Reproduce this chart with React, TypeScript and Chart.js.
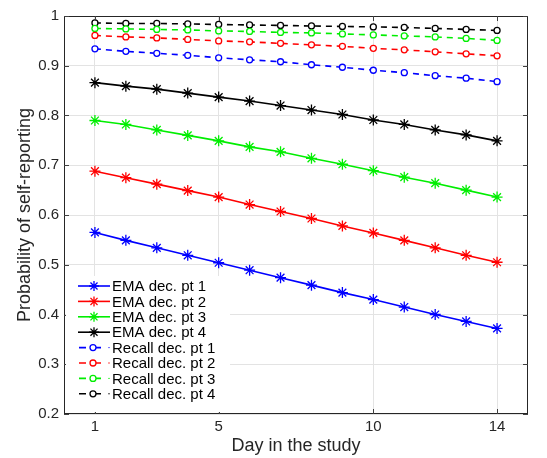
import React, { useEffect, useRef } from "react";
import { Chart, registerables } from "chart.js";

Chart.register(...registerables);

const days = [1, 2, 3, 4, 5, 6, 7, 8, 9, 10, 11, 12, 13, 14];
const xTicks = [1, 5, 10, 14];
const yTicks = [0.2, 0.3, 0.4, 0.5, 0.6, 0.7, 0.8, 0.9, 1];

const emaPt1 = [0.565, 0.549, 0.534, 0.519, 0.504, 0.489, 0.474, 0.459, 0.444, 0.43, 0.415, 0.4, 0.386, 0.372];
const emaPt2 = [0.688, 0.675, 0.662, 0.649, 0.636, 0.621, 0.607, 0.593, 0.578, 0.564, 0.549, 0.534, 0.519, 0.505];
const emaPt3 = [0.79, 0.782, 0.771, 0.76, 0.749, 0.737, 0.727, 0.714, 0.702, 0.689, 0.676, 0.664, 0.65, 0.636];
const emaPt4 = [0.866, 0.859, 0.853, 0.845, 0.837, 0.829, 0.82, 0.811, 0.802, 0.791, 0.782, 0.771, 0.761, 0.749];
const recallPt1 = [0.934, 0.929, 0.925, 0.921, 0.916, 0.912, 0.908, 0.902, 0.897, 0.891, 0.886, 0.88, 0.875, 0.868];
const recallPt2 = [0.961, 0.958, 0.956, 0.953, 0.95, 0.948, 0.945, 0.942, 0.939, 0.935, 0.932, 0.928, 0.924, 0.92];
const recallPt3 = [0.975, 0.974, 0.973, 0.972, 0.97, 0.969, 0.967, 0.966, 0.964, 0.962, 0.96, 0.958, 0.955, 0.951];
const recallPt4 = [0.986, 0.985, 0.985, 0.984, 0.983, 0.982, 0.981, 0.98, 0.979, 0.978, 0.977, 0.975, 0.973, 0.971];

const labels = [
  "EMA dec. pt 1",
  "EMA dec. pt 2",
  "EMA dec. pt 3",
  "EMA dec. pt 4",
  "Recall dec. pt 1",
  "Recall dec. pt 2",
  "Recall dec. pt 3",
  "Recall dec. pt 4",
];
const colors = ["#0000ff", "#ff0000", "#00ee00", "#000000"];
const FONT = "'Liberation Sans', Arial, Helvetica, sans-serif";

function toPts(vals: number[]) {
  return vals.map((v, i) => ({ x: days[i], y: v }));
}

const legendPlugin = {
  id: "customLegend",
  afterDraw(chart: any) {
    const ctx = chart.ctx;
    const area = chart.chartArea;
    const xs = chart.scales.x;
    const ys = chart.scales.y;
    ctx.save();
    // frame
    ctx.strokeStyle = "#262626";
    ctx.lineWidth = 1;
    ctx.strokeRect(area.left + 0.5, area.top + 0.5, area.right - area.left - 1, area.bottom - area.top - 1);
    // inward tick marks
    ctx.strokeStyle = "#404040";
    ctx.beginPath();
    xTicks.forEach((t) => {
      const px = Math.round(xs.getPixelForValue(t)) + 0.5;
      ctx.moveTo(px, area.bottom);
      ctx.lineTo(px, area.bottom - 5);
      ctx.moveTo(px, area.top);
      ctx.lineTo(px, area.top + 5);
    });
    yTicks.forEach((t) => {
      const py = Math.round(ys.getPixelForValue(t)) + 0.5;
      ctx.moveTo(area.left, py);
      ctx.lineTo(area.left + 5, py);
      ctx.moveTo(area.right, py);
      ctx.lineTo(area.right - 5, py);
    });
    ctx.stroke();
    // legend box
    const bx = area.left + 2;
    const by = 276;
    ctx.fillStyle = "#ffffff";
    ctx.fillRect(bx, by, 164, area.bottom - by - 2);
    const x0 = 78;
    const x1 = 110;
    ctx.font = "15px " + FONT;
    ctx.textBaseline = "middle";
    chart.data.datasets.forEach((ds: any, i: number) => {
      const y = 286 + i * 15.4;
      ctx.strokeStyle = ds.borderColor;
      ctx.lineWidth = ds.borderWidth;
      if (i < 4) {
        ctx.setLineDash([]);
        ctx.beginPath();
        ctx.moveTo(x0, y);
        ctx.lineTo(x1, y);
        ctx.stroke();
        ctx.lineWidth = 1.3;
        const r = 5;
        ctx.beginPath();
        for (let k = 0; k < 4; k++) {
          const a = (k * Math.PI) / 4;
          ctx.moveTo(94 - r * Math.cos(a), y - r * Math.sin(a));
          ctx.lineTo(94 + r * Math.cos(a), y + r * Math.sin(a));
        }
        ctx.stroke();
      } else {
        ctx.setLineDash([]);
        ctx.beginPath();
        ctx.moveTo(79, y);
        ctx.lineTo(86, y);
        ctx.moveTo(95, y);
        ctx.lineTo(101, y);
        ctx.stroke();
        ctx.beginPath();
        ctx.arc(93, y, 3, 0, Math.PI * 2);
        ctx.fillStyle = "#fff";
        ctx.fill();
        ctx.lineWidth = 1.3;
        ctx.stroke();
        ctx.beginPath();
        ctx.arc(109, y, 0.7, 0, Math.PI * 2);
        ctx.fillStyle = ds.borderColor;
        ctx.fill();
      }
      ctx.fillStyle = "#000";
      ctx.fillText(labels[i], 112, y + 1);
    });
    ctx.restore();
  },
};

export default function App() {
  const ref = useRef<HTMLCanvasElement | null>(null);
  useEffect(() => {
    document.body.style.margin = "0";
    const ema = [emaPt1, emaPt2, emaPt3, emaPt4];
    const rec = [recallPt1, recallPt2, recallPt3, recallPt4];
    const datasets: any[] = [];
    ema.forEach((v, i) =>
      datasets.push({
        label: labels[i],
        data: toPts(v),
        borderColor: colors[i],
        backgroundColor: colors[i],
        borderWidth: 1.6,
        pointStyle: "star",
        pointRadius: 5.5,
        pointBorderWidth: 1.3,
        showLine: true,
      })
    );
    rec.forEach((v, i) =>
      datasets.push({
        label: labels[i + 4],
        data: toPts(v),
        borderColor: colors[i],
        backgroundColor: "#ffffff",
        borderWidth: 1.6,
        borderDash: [6, 5],
        pointStyle: "circle",
        pointRadius: 3,
        pointBorderWidth: 1.3,
        showLine: true,
      })
    );
    const chart = new Chart(ref.current as HTMLCanvasElement, {
      type: "line",
      data: { datasets },
      plugins: [legendPlugin],
      options: {
        animation: false,
        responsive: false,
        maintainAspectRatio: false,
        layout: { padding: { top: 16, right: 19, left: 14, bottom: 0 } },
        plugins: { legend: { display: false }, tooltip: { enabled: false } },
        scales: {
          x: {
            type: "linear",
            min: 0,
            max: 15,
            afterBuildTicks: (s: any) => {
              s.ticks = xTicks.map((v) => ({ value: v }));
            },
            afterFit: (s: any) => {
              s.height = 44;
            },
            ticks: { color: "#262626", font: { family: FONT, size: 15 }, padding: 4, maxRotation: 0 },
            grid: { color: "#e3e3e3", drawTicks: false, lineWidth: 1 },
            border: { display: false },
            title: {
              display: true,
              text: "Day in the study",
              color: "#262626",
              font: { family: FONT, size: 18 },
              padding: { top: 0, bottom: 1 },
            },
          },
          y: {
            type: "linear",
            min: 0.2,
            max: 1,
            afterBuildTicks: (s: any) => {
              s.ticks = yTicks.map((v) => ({ value: v }));
            },
            afterFit: (s: any) => {
              s.width = 50;
            },
            ticks: {
              color: "#262626",
              font: { family: FONT, size: 15 },
              padding: 5,
              callback: (v: any) => String(Number(Number(v).toFixed(1))),
            },
            grid: { color: "#e3e3e3", drawTicks: false, lineWidth: 1 },
            border: { display: false },
            title: {
              display: true,
              text: "Probability of self-reporting",
              color: "#262626",
              font: { family: FONT, size: 18 },
              padding: { top: 0, bottom: 0 },
            },
          },
        },
      },
    });
    return () => chart.destroy();
  }, []);
  return (
    <div style={{ width: 547, height: 458 }}>
      <canvas ref={ref} width={547} height={458} style={{ display: "block" }} />
    </div>
  );
}
